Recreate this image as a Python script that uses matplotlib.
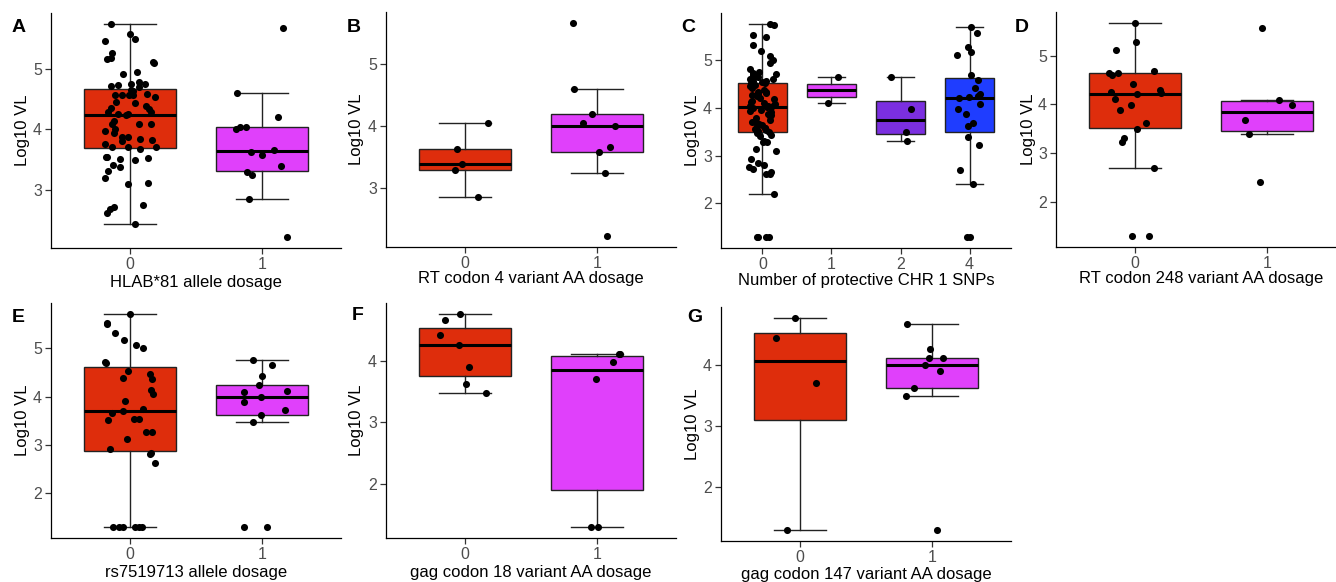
import numpy as np
import matplotlib
matplotlib.use("Agg")
import matplotlib.pyplot as plt
from matplotlib.ticker import MultipleLocator

plt.rcParams['font.family'] = ['Liberation Sans', 'DejaVu Sans']

W, H = 1336, 582

RED = '#DE2D0C'
MAGENTA = '#E040FB'
PURPLE = '#7B2FE0'
BLUE = '#1F3DFF'

# ---------------- data (Log10 VL) ----------------
# Panel A: HLAB*81 allele dosage
a_cats = ['0', '1']
a_g0 = [5.75, 5.585, 5.50, 5.47, 5.27, 5.11, 5.165, 5.18, 5.10, 4.95,
        4.92, 4.756, 4.78, 4.74, 4.72, 4.756, 4.70, 4.656, 4.59, 4.57,
        4.53, 4.57, 4.64, 4.56, 4.56, 4.44, 4.45, 4.39, 4.33, 4.35,
        4.25, 4.26, 4.28, 4.29, 4.24, 4.09, 4.09, 4.14, 4.09, 4.00,
        3.98, 3.94, 3.87, 3.88, 3.83, 3.84, 3.80, 3.76, 3.70, 3.70,
        3.70, 3.67, 3.54, 3.54, 3.53, 3.49, 3.51, 3.38, 3.31, 3.41,
        3.20, 3.11, 3.09, 2.68, 2.75, 2.71, 2.62, 2.43]
a_g1 = [5.675, 4.60, 4.20, 4.04, 4.04, 4.00, 3.62, 3.66, 3.57, 3.385,
        3.285, 3.235, 2.845, 2.21]

# Panel B: RT codon 4 variant AA dosage
b_cats = ['0', '1']
b_g0 = [4.04, 3.63, 3.38, 3.29, 2.84]
b_g1 = [5.675, 4.605, 4.20, 4.04, 4.00, 3.66, 3.57, 3.23, 2.21]

# Panel C: Number of protective CHR 1 SNPs
c_cats = ['0', '1', '2', '4']
c_g0 = [5.76, 5.73, 5.52, 5.48, 5.31, 5.18, 5.09, 5.01, 4.94, 4.82,
        4.75, 4.72, 4.70, 4.68, 4.66, 4.64, 4.61, 4.60, 4.57, 4.56,
        4.54, 4.52, 4.51, 4.47, 4.45, 4.42, 4.38, 4.33, 4.33, 4.31,
        4.29, 4.27, 4.24, 4.20, 4.18, 4.15, 4.13, 4.11, 4.08, 4.06,
        4.04, 4.03, 4.02, 4.01, 3.99, 3.96, 3.93, 3.92, 3.88, 3.85,
        3.82, 3.78, 3.75, 3.71, 3.70, 3.67, 3.64, 3.62, 3.58, 3.57,
        3.55, 3.53, 3.52, 3.50, 3.48, 3.43, 3.40, 3.30, 3.29, 3.28,
        3.14, 3.10, 2.92, 2.84, 2.80, 2.76, 2.72, 2.66, 2.62, 2.61,
        2.20, 1.29, 1.29, 1.29, 1.29]
c_g1 = [4.647, 4.09]
c_g2 = [4.64, 3.98, 3.49, 3.31]
c_g3 = [5.69, 5.57, 5.27, 5.17, 5.115, 4.68, 4.58, 4.42, 4.25, 4.23,
        4.28, 4.21, 4.08, 3.88, 3.98, 3.69, 3.62, 3.38, 3.22, 2.70,
        2.41, 1.29, 1.29]

# Panel D: RT codon 248 variant AA dosage
d_cats = ['0', '1']
d_g0 = [5.675, 5.11, 5.27, 4.68, 4.65, 4.65, 4.60, 4.42, 4.29, 4.26,
        4.23, 4.21, 4.10, 3.99, 3.89, 3.62, 3.49, 3.31, 3.23, 2.70,
        1.29, 1.29]
d_g1 = [5.57, 4.08, 3.99, 3.68, 3.38, 2.41]

# Panel E: rs7519713 allele dosage
e_cats = ['0', '1']
e_g0 = [5.72, 5.53, 5.51, 5.31, 5.17, 5.01, 5.08, 4.72, 4.70, 4.53,
        4.48, 4.36, 4.39, 4.14, 4.06, 3.91, 3.74, 3.70, 3.67, 3.54,
        3.52, 3.54, 3.28, 3.28, 3.13, 2.93, 2.84, 2.81, 2.63,
        1.31, 1.31, 1.31, 1.31, 1.31, 1.31]
e_g1 = [4.77, 4.65, 4.43, 4.25, 4.12, 4.10, 4.00, 3.90, 3.72, 3.63,
        3.48, 1.30, 1.30]

# Panel F: gag codon 18 variant AA dosage
f_cats = ['0', '1']
f_g0 = [4.76, 4.65, 4.42, 4.25, 3.89, 3.62, 3.48]
f_g1 = [4.11, 4.10, 3.98, 3.70, 1.30, 1.30]

# Panel G: gag codon 147 variant AA dosage
g_cats = ['0', '1']
g_g0 = [4.77, 4.43, 3.71, 1.30]
g_g1 = [4.66, 4.265, 4.11, 4.11, 3.995, 3.90, 3.63, 3.49, 1.30]

# ---------------- layout ----------------
panels = [
    dict(letter='A', cats=a_cats, groups=[a_g0, a_g1], colors=[RED, MAGENTA],
         xlabel='HLAB*81 allele dosage', box=(51, 13, 341, 248),
         ylab_x=22, xlab_y=282, let=(12, 27)),
    dict(letter='B', cats=b_cats, groups=[b_g0, b_g1], colors=[RED, MAGENTA],
         xlabel='RT codon 4 variant AA dosage', box=(386, 12, 676, 247),
         ylab_x=357, xlab_y=279, let=(347, 27)),
    dict(letter='C', cats=c_cats, groups=[c_g0, c_g1, c_g2, c_g3],
         colors=[RED, MAGENTA, PURPLE, BLUE],
         xlabel='Number of protective CHR 1 SNPs', box=(721, 13, 1011, 248),
         ylab_x=692, xlab_y=281, let=(681, 27)),
    dict(letter='D', cats=d_cats, groups=[d_g0, d_g1], colors=[RED, MAGENTA],
         xlabel='RT codon 248 variant AA dosage', box=(1056, 12, 1346, 247),
         ylab_x=1028, xlab_y=279, let=(1015, 27)),
    dict(letter='E', cats=e_cats, groups=[e_g0, e_g1], colors=[RED, MAGENTA],
         xlabel='rs7519713 allele dosage', box=(51, 303, 341, 538),
         ylab_x=22, xlab_y=572, let=(12, 317)),
    dict(letter='F', cats=f_cats, groups=[f_g0, f_g1], colors=[RED, MAGENTA],
         xlabel='gag codon 18 variant AA dosage', box=(386, 303, 676, 538),
         ylab_x=357, xlab_y=572, let=(352, 316)),
    dict(letter='G', cats=g_cats, groups=[g_g0, g_g1], colors=[RED, MAGENTA],
         xlabel='gag codon 147 variant AA dosage', box=(721, 307, 1011, 541),
         ylab_x=692, xlab_y=575, let=(687, 318)),
]

fig = plt.figure(figsize=(W / 100, H / 100), dpi=100)
rng = np.random.default_rng(11)
TXT = '#4D4D4D'

for p in panels:
    l, t, r, b = p['box']
    ax = fig.add_axes([l / W, 1 - b / H, (r - l) / W, (b - t) / H])
    n = len(p['cats'])
    pos = np.arange(n)
    bp = ax.boxplot(p['groups'], positions=pos, widths=0.7, capwidths=0.4,
                    patch_artist=True, showfliers=False, whis=1.5,
                    medianprops=dict(color='black', linewidth=2.2),
                    boxprops=dict(edgecolor='#222222', linewidth=1.0),
                    whiskerprops=dict(color='#222222', linewidth=1.0),
                    capprops=dict(color='#222222', linewidth=1.0),
                    zorder=2)
    for patch, c in zip(bp['boxes'], p['colors']):
        patch.set_facecolor(c)
    for i, g in enumerate(p['groups']):
        xs = i + rng.uniform(-0.2, 0.2, len(g))
        ax.scatter(xs, g, s=26, color='black', linewidths=0, zorder=3)
    allv = np.concatenate([np.asarray(g, float) for g in p['groups']])
    lo, hi = allv.min(), allv.max()
    pad = 0.05 * (hi - lo)
    ax.set_ylim(lo - pad, hi + pad)
    ax.set_xlim(-0.6, n - 0.4)
    ax.set_xticks(pos)
    ax.set_xticklabels(p['cats'])
    ax.yaxis.set_major_locator(MultipleLocator(1))
    for s in ['top', 'right']:
        ax.spines[s].set_visible(False)
    for s in ['left', 'bottom']:
        ax.spines[s].set_linewidth(0.9)
        ax.spines[s].set_color('black')
    ax.tick_params(axis='both', length=4, width=0.9, color='#333333',
                   labelsize=11.5, labelcolor=TXT, pad=2.5)
    ax.set_ylabel('Log10 VL', fontsize=12, color='black')
    ax.set_xlabel(p['xlabel'], fontsize=12, color='black')
    ax.yaxis.set_label_coords((p['ylab_x'] - l) / (r - l), 0.5)
    ax.yaxis.label.set_va('center')
    ax.xaxis.set_label_coords(0.5, (b - p['xlab_y']) / (b - t))
    ax.xaxis.label.set_va('center')
    lx, ly = p['let']
    fig.text(lx / W, 1 - ly / H, p['letter'], ha='left', va='center',
             fontsize=14, fontweight='bold')

fig.savefig('out.png', dpi=100)
